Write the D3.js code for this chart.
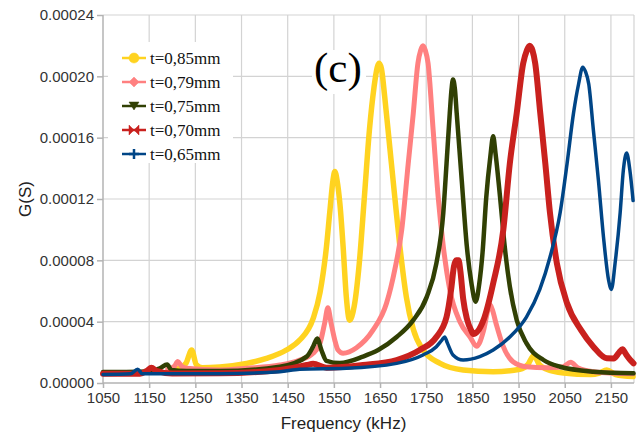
<!DOCTYPE html>
<html>
<head>
<meta charset="utf-8">
<script src="https://cdn.jsdelivr.net/npm/d3@7"></script>
<style>
  body { margin: 0; background: #fff; }
  #chart svg { display: block; }
</style>
</head>
<body>
<div id="chart"></div>
<script>
// G values are in units of 1e-5 S, frequencies in kHz
const UNIT = 1e-5;

const f085 = [1195, 1215, 1230, 1242, 1252, 1265, 1303, 1361, 1404, 1447, 1476, 1505, 1520, 1534, 1541, 1548, 1552, 1557, 1563, 1570, 1577, 1584, 1594, 1605, 1616, 1627, 1637, 1644, 1648, 1653, 1660, 1671, 1682, 1693, 1707, 1722, 1743, 1780, 1830, 1895, 1953, 1970, 1983, 1995, 2011, 2048, 2106, 2125, 2141, 2160, 2198];
const g085 = [0.9, 0.95, 1.3, 2.15, 1.2, 1.0, 1.05, 1.28, 1.6, 2.15, 2.8, 4.2, 5.9, 8.9, 11.1, 13.2, 13.8, 13.2, 11.7, 8.9, 5.6, 4.1, 5.0, 7.8, 12.1, 16.5, 19.3, 20.6, 20.85, 20.5, 18.7, 15.4, 12.1, 8.9, 5.6, 3.5, 2.15, 1.28, 0.85, 0.74, 0.9, 1.2, 1.8, 1.2, 0.9, 0.65, 0.55, 0.65, 0.85, 0.55, 0.42];

const f079 = [1190, 1205, 1212, 1220, 1231, 1303, 1361, 1433, 1476, 1505, 1520, 1530, 1537, 1544, 1552, 1559, 1570, 1599, 1635, 1664, 1682, 1697, 1711, 1722, 1732, 1738, 1743, 1748, 1754, 1765, 1776, 1787, 1801, 1823, 1845, 1859, 1874, 1884, 1888, 1893, 1902, 1917, 1938, 1967, 2011, 2045, 2063, 2078, 2112, 2198];
const g079 = [0.9, 1.1, 1.4, 1.1, 0.96, 0.85, 0.96, 1.17, 1.5, 1.94, 2.6, 3.9, 4.9, 3.9, 2.8, 2.15, 1.94, 2.3, 3.46, 5.2, 7.4, 10.0, 14.3, 17.6, 20.85, 21.7, 22.0, 21.7, 20.85, 16.5, 12.1, 8.9, 6.1, 4.0, 3.0, 2.4, 3.4, 4.8, 5.1, 4.8, 3.8, 2.37, 1.39, 1.06, 1.0, 1.05, 1.35, 1.0, 0.74, 0.6];

const f075 = [1050, 1100, 1150, 1173, 1189, 1198, 1230, 1303, 1433, 1491, 1505, 1514, 1523, 1534, 1563, 1613, 1646, 1686, 1722, 1751, 1772, 1787, 1794, 1801, 1805, 1808, 1812, 1816, 1827, 1838, 1848, 1857, 1865, 1872, 1880, 1889, 1895, 1900, 1910, 1920, 1931, 1946, 1967, 2004, 2040, 2112, 2199];
const g075 = [0.72, 0.72, 0.75, 0.96, 1.2, 0.85, 0.78, 0.78, 1.06, 1.72, 2.37, 2.9, 2.15, 1.45, 1.3, 1.72, 2.15, 3.0, 4.1, 5.6, 7.8, 11.1, 14.3, 17.6, 19.2, 19.8, 19.2, 17.6, 13.2, 8.9, 6.5, 5.3, 6.5, 8.5, 12.1, 14.8, 16.1, 15.0, 12.1, 8.9, 6.3, 4.1, 2.6, 1.5, 1.06, 0.74, 0.63];

const f070 = [1050, 1130, 1145, 1155, 1165, 1200, 1303, 1433, 1491, 1505, 1534, 1613, 1686, 1736, 1772, 1794, 1804, 1810, 1815, 1820, 1824, 1830, 1838, 1848, 1852, 1874, 1895, 1917, 1931, 1946, 1960, 1968, 1974, 1980, 1986, 1997, 2008, 2018, 2033, 2055, 2085, 2112, 2141, 2156, 2168, 2175, 2182, 2192, 2199];
const g070 = [0.6, 0.6, 0.8, 1.0, 0.8, 0.62, 0.63, 0.85, 1.17, 1.25, 1.0, 1.17, 1.5, 2.15, 3.0, 4.3, 6.1, 7.6, 8.0, 8.0, 7.3, 5.5, 4.2, 3.4, 3.2, 4.1, 6.5, 10.0, 14.3, 17.6, 20.85, 21.7, 22.0, 21.7, 20.85, 17.6, 14.3, 11.1, 7.8, 5.2, 3.46, 2.37, 1.61, 1.6, 2.0, 2.2, 1.9, 1.5, 1.28];

const f065 = [1050, 1110, 1125, 1135, 1300, 1433, 1476, 1577, 1686, 1743, 1772, 1784, 1790, 1796, 1808, 1830, 1866, 1895, 1931, 1967, 1996, 2018, 2040, 2055, 2069, 2080, 2089, 2095, 2102, 2112, 2123, 2134, 2145, 2151, 2159, 2170, 2177, 2184, 2191, 2198];
const g065 = [0.55, 0.6, 0.9, 0.6, 0.6, 0.74, 0.9, 0.96, 1.28, 1.83, 2.37, 2.8, 3.0, 2.6, 1.83, 1.5, 1.72, 2.15, 3.0, 4.3, 6.1, 8.2, 11.1, 14.3, 17.6, 19.5, 20.6, 20.3, 19.5, 16.5, 13.2, 9.5, 6.7, 6.1, 7.8, 11.1, 13.9, 15.0, 13.9, 11.9];

const seriesNames = ['t=0,85mm', 't=0,79mm', 't=0,75mm', 't=0,70mm', 't=0,65mm'];
const xTicks = [1050, 1150, 1250, 1350, 1450, 1550, 1650, 1750, 1850, 1950, 2050, 2150];
const yTicks = [0, 0.00004, 0.00008, 0.00012, 0.00016, 0.00020, 0.00024];

const Chart = function(){
  const W = 643, H = 435,
        L = 103, R = 634, T = 15, B = 383;

  const SERIES = [
    {name: seriesNames[0], f: f085, g: g085, color: '#ffd320', sw: 5.5, marker: 'circle'},
    {name: seriesNames[1], f: f079, g: g079, color: '#ff8080', sw: 5, marker: 'diamond'},
    {name: seriesNames[2], f: f075, g: g075, color: '#314004', sw: 4.5, marker: 'tri'},
    {name: seriesNames[3], f: f070, g: g070, color: '#c9211e', sw: 6, marker: 'bowtie'},
    {name: seriesNames[4], f: f065, g: g065, color: '#004586', sw: 3.5, marker: 'plus'}
  ];

  const markerPath = (type, s) => {
    switch(type){
      case 'diamond': return `M0,${-s}L${s},0L0,${s}L${-s},0Z`;
      case 'tri': return `M${-s},${-s*0.8}L${s},${-s*0.8}L0,${s*0.8}Z`;
      case 'bowtie': return `M${-s},${-s}L0,0L${-s},${s}Z M${s},${-s}L0,0L${s},${s}Z`;
      case 'plus': return `M${-s},0L${s},0M0,${-s}L0,${s}`;
      default: return d3.symbol(d3.symbolCircle, s*s*3.2)();
    }
  };

  const plot = () => {
    const svg = d3.select('#chart')
      .append('svg')
      .attr('width', W)
      .attr('height', H)
      .style('font-family', '"Liberation Sans", Arial, sans-serif');

    const xScale = d3.scaleLinear().domain([1050, 2200]).range([L, R]);
    const yScale = d3.scaleLinear().domain([0, 0.00024]).range([B, T]);

    // grid
    svg.append('g')
       .selectAll('line')
       .data(yTicks.slice(1))
       .enter()
       .append('line')
       .attr('x1', L).attr('x2', R)
       .attr('y1', d => yScale(d)).attr('y2', d => yScale(d))
       .attr('stroke', '#d3d3d3').attr('stroke-width', 1.2);

    svg.append('g')
       .selectAll('line')
       .data(xTicks.slice(1).concat([2200]))
       .enter()
       .append('line')
       .attr('x1', d => xScale(d)).attr('x2', d => xScale(d))
       .attr('y1', T).attr('y2', B)
       .attr('stroke', '#d3d3d3').attr('stroke-width', 1.2);

    const xAxis = d3.axisBottom(xScale).tickValues(xTicks).tickSize(5).tickPadding(4).tickFormat(d3.format('d'));
    const yAxis = d3.axisLeft(yScale).tickValues(yTicks).tickSize(6).tickPadding(3).tickFormat(d3.format('.5f'));

    const gx = svg.append('g')
       .attr('transform', `translate(0,${B})`)
       .call(xAxis);
    const gy = svg.append('g')
       .attr('transform', `translate(${L},0)`)
       .call(yAxis);

    [gx, gy].forEach(g => {
      g.select('.domain').attr('stroke', '#b3b3b3').attr('stroke-width', 1.5);
      g.selectAll('.tick line').attr('stroke', '#b3b3b3').attr('stroke-width', 1.5);
      g.selectAll('.tick text').attr('fill', '#333').style('font-size', '15px').style('font-family', '"Liberation Sans", Arial, sans-serif');
    });
    gx.select('.domain').attr('d', `M${L},0H${R}`);
    gy.select('.domain').attr('d', `M0,${B}V${T}`);

    // axis titles
    svg.append('text')
       .attr('x', (L + R) / 2 - 25)
       .attr('y', 429)
       .attr('text-anchor', 'middle')
       .attr('fill', '#222')
       .style('font-size', '17px')
       .text('Frequency (kHz)');

    svg.append('text')
       .attr('transform', `translate(31,${(T + B) / 2}) rotate(-90)`)
       .attr('text-anchor', 'middle')
       .attr('fill', '#222')
       .style('font-size', '17px')
       .text('G(S)');

    // curves
    const line = d3.line()
      .x(d => xScale(d[0]))
      .y(d => yScale(d[1] * UNIT))
      .curve(d3.curveMonotoneX);

    SERIES.forEach(s => {
      const pts = s.f.map((f, i) => [f, s.g[i]]);
      svg.append('path')
         .datum(pts)
         .attr('d', line)
         .attr('fill', 'none')
         .attr('stroke', s.color)
         .attr('stroke-width', s.sw)
         .attr('stroke-linejoin', 'round')
         .attr('stroke-linecap', 'round');
    });

    // legend
    const lg = svg.append('g');
    lg.append('rect')
      .attr('x', 108).attr('y', 42)
      .attr('width', 125).attr('height', 121)
      .attr('fill', '#fff');

    const rows = lg.selectAll('g.row')
      .data(SERIES)
      .enter()
      .append('g')
      .attr('class', 'row')
      .attr('transform', (d, i) => `translate(134,${58 + i * 24})`);

    rows.append('line')
      .attr('x1', -12).attr('x2', 12)
      .attr('stroke', d => d.color)
      .attr('stroke-width', 2.5);

    rows.append('path')
      .attr('d', d => markerPath(d.marker, 5))
      .attr('fill', d => d.color)
      .attr('stroke', d => d.color)
      .attr('stroke-width', d => d.marker === 'plus' ? 2.5 : 0.5);

    rows.append('text')
      .attr('x', 16)
      .attr('dy', '0.35em')
      .attr('fill', '#111')
      .style('font-family', '"Liberation Serif", "Times New Roman", serif')
      .style('font-size', '17px')
      .text(d => d.name);

    // panel label
    svg.append('rect')
      .attr('x', 312).attr('y', 50)
      .attr('width', 54).attr('height', 44)
      .attr('fill', '#fff');
    svg.append('text')
      .attr('x', 314)
      .attr('y', 82)
      .attr('fill', '#000')
      .style('font-family', '"Liberation Serif", "Times New Roman", serif')
      .style('font-size', '43px')
      .text('(c)');
  };

  return { load: plot };
}();
document.addEventListener('DOMContentLoaded', Chart.load);
</script>
</body>
</html>
